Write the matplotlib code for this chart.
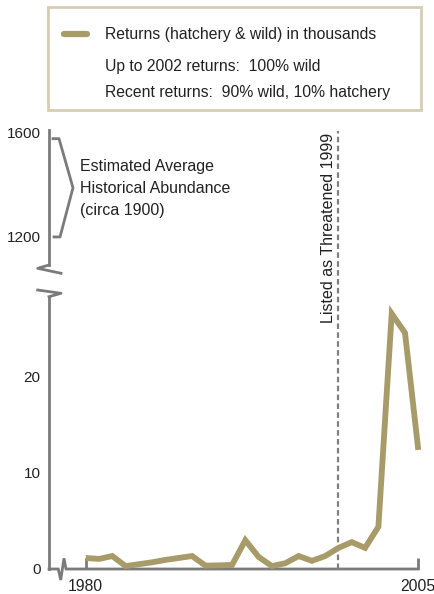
import matplotlib.pyplot as plt
import matplotlib.transforms as mtransforms
from matplotlib.patches import Rectangle
from matplotlib.lines import Line2D

plt.rcParams['font.family'] = ['Liberation Sans', 'DejaVu Sans']

# data (returns in thousands)
years = list(range(1980, 2006))
returns = [1.15, 1.05, 1.35, 0.3, 0.5, 0.7, 0.95, 1.15, 1.35, 0.35, 0.38, 0.42,
           3.0, 1.25, 0.3, 0.6, 1.35, 0.85, 1.35, 2.2, 2.8, 2.2, 4.4, 26.6, 24.6, 12.4]
hist_range = [1200, 1575]
listed_year = 1999
upper_ticks = [1200, 1600]
lower_ticks = [0, 10, 20]
year_ticks = [1980, 2005]
legend_lines = ["Returns (hatchery & wild) in thousands",
                "Up to 2002 returns:  100% wild",
                "Recent returns:  90% wild, 10% hatchery"]
hist_label = "Estimated Average\nHistorical Abundance\n(circa 1900)"
listed_label = "Listed as Threatened 1999"

LINE = '#a89b6a'
AXIS = '#7b7b7b'
BOX = '#d6cdb2'
TEXT = '#222222'

W, H = 435, 594
fig = plt.figure(figsize=(W / 100, H / 100), dpi=100)


def rect(left, top, right, bottom):
    return [left / W, 1 - bottom / H, (right - left) / W, (bottom - top) / H]


def fy(y):
    return 1 - y / H


aw = 369.3
ah_low = 272.3
ah_up = 135.0

top = fig.add_axes(rect(49, 130, 418.3, 265))
ax = fig.add_axes(rect(49, 296.7, 418.3, 569))
ax.patch.set_visible(False)
top.patch.set_visible(False)

# lower panel
ax.set_xlim(1977.24, 2005)
ax.set_ylim(0, ah_low / 9.6)
for s in ['top', 'right', 'bottom']:
    ax.spines[s].set_visible(False)
ax.spines['left'].set_color(AXIS)
ax.spines['left'].set_linewidth(2)
ax.set_yticks(lower_ticks)
ax.set_xticks(year_ticks)
ax.tick_params(axis='y', length=0, pad=6, labelsize=11, labelcolor=TEXT)
ax.tick_params(axis='x', direction='in', length=8, width=2, color=AXIS,
               pad=7, labelsize=11.3, labelcolor=TEXT)

# baseline with break
bx = [0, 9.3, 11.7, 15, 17, aw]
by = [0, 0, -11, 10.7, 0, 0]
ax.plot([v / aw for v in bx], [v / ah_low for v in by], color=AXIS, lw=2,
        transform=ax.transAxes, clip_on=False, solid_joinstyle='miter')
# break marks on the y axis
ax.plot([-11.3 / aw, 12 / aw, 0], [1 + 6.7 / ah_low, 1 + 3.4 / ah_low, 1],
        color=AXIS, lw=2, transform=ax.transAxes, clip_on=False)

ax.plot(years, returns, color=LINE, lw=4.2, clip_on=False,
        solid_joinstyle='miter', solid_capstyle='butt', zorder=3)

ax.axvline(listed_year, ymin=0, ymax=1 + (296.7 - 131) / ah_low, color='#808080',
           lw=1.6, ls=(0, (2.5, 1.5)), clip_on=False)
blend = mtransforms.blended_transform_factory(ax.transData, ax.transAxes)
ax.text(listed_year - 0.15, 1 + (296.7 - 133) / ah_low, listed_label, rotation=90,
        ha='right', va='top', transform=blend, fontsize=11.5, color=TEXT)

# upper panel
top.set_xlim(1977.24, 2005)
top.set_ylim(1093, 1608)
for s in ['top', 'right', 'bottom']:
    top.spines[s].set_visible(False)
top.spines['left'].set_color(AXIS)
top.spines['left'].set_linewidth(2)
top.set_xticks([])
top.set_yticks(upper_ticks)
top.tick_params(axis='y', length=0, pad=6, labelsize=11, labelcolor=TEXT)
top.plot([0, -11.3 / aw, 12 / aw], [0, -3.3 / ah_up, -8.3 / ah_up],
         color=AXIS, lw=2, transform=top.transAxes, clip_on=False)

bl = mtransforms.blended_transform_factory(top.transAxes, top.transData)
mid = (hist_range[0] + hist_range[1]) / 2
top.plot([4 / aw, 10 / aw, 24 / aw, 11 / aw, 5 / aw],
         [hist_range[1], hist_range[1], mid, hist_range[0], hist_range[0]],
         color=AXIS, lw=2, transform=bl, clip_on=False)
top.text(31 / aw, 1600 - (159 - 132) / 0.2625, hist_label, transform=bl,
         ha='left', va='top', fontsize=11.5, color=TEXT, linespacing=1.6)

# legend box
fig.add_artist(Rectangle((48 / W, fy(110)), (421 - 48) / W, (110 - 7) / H,
                         transform=fig.transFigure, fill=False, edgecolor=BOX, lw=2))
fig.add_artist(Line2D([64 / W, 87 / W], [fy(34), fy(34)], transform=fig.transFigure,
                      color=LINE, lw=4.5, solid_capstyle='round'))
for txt, yb in zip(legend_lines, [39.3, 70.7, 97.3]):
    fig.text(105 / W, fy(yb), txt, ha='left', va='baseline', fontsize=11.3, color=TEXT)

fig.savefig('out.png', dpi=100)
